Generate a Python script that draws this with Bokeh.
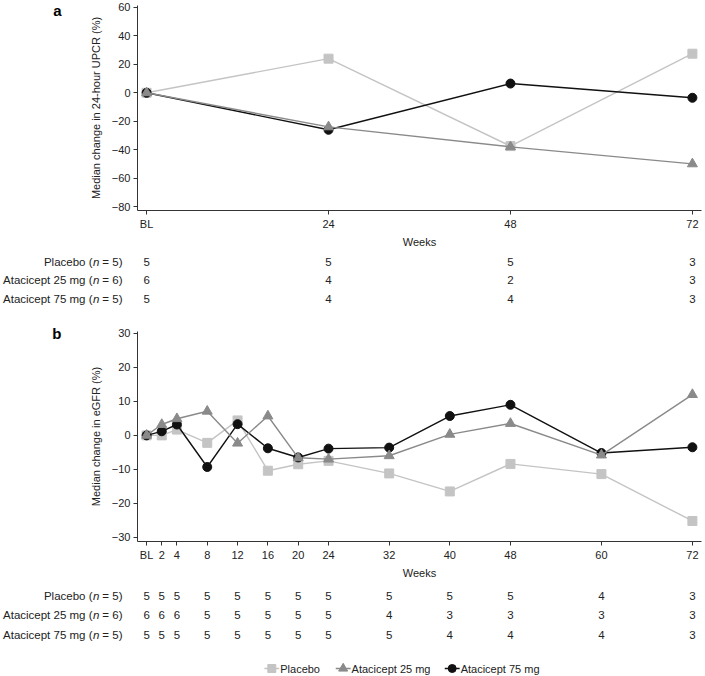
from bokeh.plotting import figure
from bokeh.models import Range1d, FixedTicker, LinearAxis
from bokeh.layouts import column
from bokeh.embed import file_html
from bokeh.resources import INLINE
from bokeh.core.properties import value

# ---------------- data ----------------
groups = ["Placebo", "Atacicept 25 mg", "Atacicept 75 mg"]
group_n = [5, 6, 5]

weeks_a = [0, 24, 48, 72]
upcr_placebo = [0, 24, -37.5, 27.5]
upcr_25 = [0, -24, -38, -50]
upcr_75 = [0, -26, 6.5, -3.5]
n_a_placebo = [5, 5, 5, 3]
n_a_25 = [6, 4, 2, 3]
n_a_75 = [5, 4, 4, 3]

weeks_b = [0, 2, 4, 8, 12, 16, 20, 24, 32, 40, 48, 60, 72]
egfr_placebo = [0, 0, 1.7, -2.2, 4.4, -10.4, -8.5, -7.5, -11.2, -16.5, -8.4, -11.4, -25.2]
egfr_25 = [0, 3.2, 4.9, 7.1, -2.3, 5.7, -6.6, -7.0, -6.0, 0.3, 3.5, -5.8, 12.0]
egfr_75 = [0, 1.2, 3.2, -9.3, 3.3, -3.8, -6.5, -3.9, -3.6, 5.7, 9.0, -5.2, -3.5]
n_b_placebo = [5, 5, 5, 5, 5, 5, 5, 5, 5, 5, 5, 4, 3]
n_b_25 = [6, 6, 6, 5, 5, 5, 5, 5, 4, 3, 3, 3, 3]
n_b_75 = [5, 5, 5, 5, 5, 5, 5, 5, 5, 4, 4, 4, 3]

yticks_a = [60, 40, 20, 0, -20, -40, -60, -80]
yticks_b = [30, 20, 10, 0, -10, -20, -30]

# ---------------- style ----------------
FONT = "Liberation Sans"
TXT = "#222222"
AX = "#333333"
colors = ["#c4c4c4", "#8a8a8a", "#111111"]
markers = ["square", "triangle", "circle"]
msizes = [9, 10, 9]
draw_order = [0, 2, 1]

W = 703
FL = 132
FR = 2
X0, X1 = -1.2, 73.2


def text_axis(p, ticks, labels, standoff, size, style):
    ax = LinearAxis(ticker=FixedTicker(ticks=ticks),
                    major_label_overrides={t: s for t, s in zip(ticks, labels)})
    ax.axis_line_color = None
    ax.major_tick_line_color = None
    ax.minor_tick_line_color = None
    ax.major_tick_out = 0
    ax.major_tick_in = 0
    ax.major_label_standoff = standoff
    ax.major_label_text_font = FONT
    ax.major_label_text_font_size = size
    ax.major_label_text_font_style = style
    ax.major_label_text_color = TXT if style != "bold" else "#000000"
    p.add_layout(ax, "left")


def make_plot(weeks, series, yr, yticks, ylabel, letter, height, btop, bbot):
    p = figure(width=W, height=height, output_backend="svg", toolbar_location=None,
               x_range=Range1d(X0, X1), y_range=Range1d(*yr),
               min_border_left=FL, min_border_right=FR,
               min_border_top=btop, min_border_bottom=bbot)
    p.outline_line_color = None
    p.grid.visible = False
    for i in draw_order:
        p.line(weeks, series[i], line_color=colors[i], line_width=1.4)
        p.scatter(weeks, series[i], marker=markers[i], size=msizes[i],
                  fill_color=colors[i], line_color=colors[i])
    for ax in (p.xaxis, p.yaxis):
        ax.axis_line_color = AX
        ax.major_tick_line_color = AX
        ax.minor_tick_line_color = None
        ax.major_tick_out = 4
        ax.major_tick_in = 0
        ax.major_label_text_font = FONT
        ax.major_label_text_font_size = "11px"
        ax.major_label_text_color = TXT
        ax.axis_label_text_font = FONT
        ax.axis_label_text_font_size = "11px"
        ax.axis_label_text_font_style = "normal"
        ax.axis_label_text_color = TXT
        ax.major_label_standoff = 3
        ax.axis_label_standoff = 3
    p.yaxis.axis_label_standoff = 7
    p.xaxis.ticker = FixedTicker(ticks=weeks)
    p.xaxis.major_label_overrides = {w: ("BL" if w == 0 else str(w)) for w in weeks}
    p.xaxis.axis_label = "Weeks"
    p.yaxis.ticker = FixedTicker(ticks=yticks)
    p.yaxis.major_label_overrides = {v: ("\u2212%d" % -v if v < 0 else str(v)) for v in yticks}
    p.yaxis.axis_label = ylabel
    # panel letter, placed beside the top tick
    text_axis(p, [yticks[0]], [letter], 25, "15px", "bold")
    return p


def make_table(weeks, counts, height, first, gap):
    p = figure(width=W, height=height, output_backend="svg", toolbar_location=None,
               x_range=Range1d(X0, X1), y_range=Range1d(-height, 0),
               x_axis_type=None, y_axis_type=None,
               min_border_left=FL, min_border_right=FR, min_border_top=0, min_border_bottom=0)
    p.outline_line_color = None
    p.grid.visible = False
    ys = [-(first + i * gap) for i in range(len(groups))]
    text_axis(p, ys, ["= %d)" % n for n in group_n], 15, "11.5px", "normal")
    text_axis(p, ys, ["n"] * len(groups), 0, "11.5px", "italic")
    text_axis(p, ys, [g + " (" for g in groups], -2, "11.5px", "normal")
    for i in range(len(groups)):
        p.text(weeks, [ys[i]] * len(weeks), text=[str(c) for c in counts[i]],
               text_font=value(FONT), text_font_size="11.5px", text_color=TXT,
               text_align="center", text_baseline="middle")
    return p


def make_legend(height, yc):
    p = figure(width=W, height=height, output_backend="svg", toolbar_location=None,
               x_range=Range1d(FL, W - FR), y_range=Range1d(-height, 0),
               x_axis_type=None, y_axis_type=None,
               min_border_left=FL, min_border_right=FR, min_border_top=0, min_border_bottom=0)
    p.outline_line_color = None
    p.grid.visible = False
    starts = [260, 332, 442]
    for i, g in enumerate(groups):
        x0 = starts[i]
        p.line([x0, x0 + 15], [-yc, -yc], line_color=colors[i], line_width=1.4)
        p.scatter([x0 + 7.5], [-yc], marker=markers[i], size=msizes[i] - 1,
                  fill_color=colors[i], line_color=colors[i])
        p.text([x0 + 16], [-yc], text=[g], text_font=value(FONT), text_font_size="11px",
               text_color=TXT, text_align="left", text_baseline="middle")
    return p


pa = make_plot(weeks_a, [upcr_placebo, upcr_25, upcr_75], (-82.77, 61.39), yticks_a,
               "Median change in 24-hour UPCR (%)", "a", 250, 5, 37)
ta = make_table(weeks_a, [n_a_placebo, n_a_25, n_a_75], 55, 11, 18.8)
pb = make_plot(weeks_b, [egfr_placebo, egfr_25, egfr_75], (-31.24, 30.58), yticks_b,
               "Median change in eGFR (%)", "b", 276, 26, 36)
tb = make_table(weeks_b, [n_b_placebo, n_b_25, n_b_75], 64, 14, 19.5)
lg = make_legend(30, 23)

layout = column(pa, ta, pb, tb, lg, spacing=0)
open("out.html", "w").write(file_html(layout, INLINE))
